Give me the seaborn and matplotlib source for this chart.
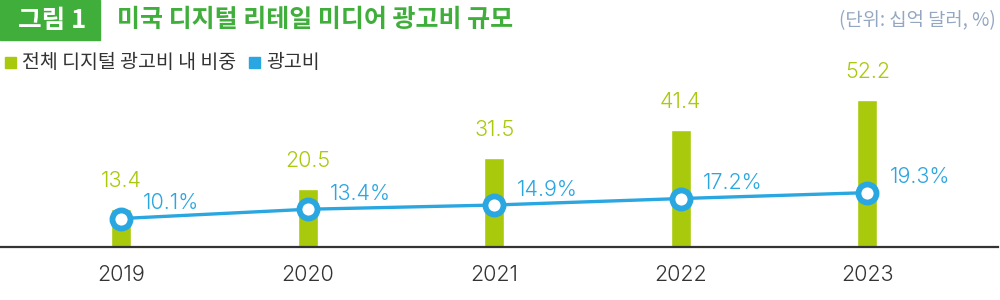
import matplotlib
matplotlib.use("Agg")
import matplotlib.pyplot as plt
import seaborn as sns
import numpy as np
import pandas as pd
from matplotlib.patches import Rectangle

years = ["2019", "2020", "2021", "2022", "2023"]
spend = [13.4, 20.5, 31.5, 41.4, 52.2]          # 십억 달러
share = [10.1, 13.4, 14.9, 17.2, 19.3]          # %
title_tag = "그림 1"
title = "미국 디지털 리테일 미디어 광고비 규모"
unit = "(단위: 십억 달러, %)"
legend_labels = ["전체 디지털 광고비 내 비중", "광고비"]

GREEN = "#a9c90c"
BLUE = "#2aa6e0"
TITLE_GREEN = "#3fae3a"
DARK = "#333333"
NUMFONT = ["Inter", "Noto Sans CJK KR", "DejaVu Sans"]

sns.set_theme(style="white")
plt.rcParams['font.family'] = ['Noto Sans CJK KR', 'DejaVu Sans']

fig = plt.figure(figsize=(10, 3), dpi=100)
ax = fig.add_axes([0, 0.1767, 0.998, 0.6233])

df = pd.DataFrame({"year": years, "spend": spend, "share": share})
sns.barplot(data=df, x="year", y="spend", color=GREEN, width=0.107,
            saturation=1, ax=ax, zorder=2)
xpos = np.arange(len(years))
sns.lineplot(x=xpos, y=share, ax=ax, color=BLUE, lw=2.4, zorder=3,
             marker="o", markersize=13, markerfacecolor="white",
             markeredgecolor=BLUE, markeredgewidth=4.2)

ax.set_xlim(-0.649, 4.70)
ax.set_ylim(0, 66.4)
ax.set_xlabel("")
ax.set_ylabel("")
ax.set_yticks([])
for s in ["top", "left", "right"]:
    ax.spines[s].set_visible(False)
ax.spines["bottom"].set_color(DARK)
ax.spines["bottom"].set_linewidth(1.6)
ax.tick_params(axis="x", length=0, pad=13, labelsize=15.5, labelcolor=DARK)
for lab in ax.get_xticklabels():
    lab.set_family(NUMFONT)
    lab.set_fontweight(300)

for i, (v, p) in enumerate(zip(spend, share)):
    ax.annotate(f"{v}", (i, v), xytext=(0, 13), textcoords="offset points",
                ha="center", va="bottom", fontsize=15.5, color=GREEN,
                family=NUMFONT, fontweight=300)
    ax.annotate(f"{p}%", (i, p), xytext=(16, 11), textcoords="offset points",
                ha="left", va="center", fontsize=15.5, color=BLUE,
                family=NUMFONT, fontweight=300)

# header
fig.patches.append(Rectangle((0, 1 - 40/300), 100/1000, 40/300,
                             transform=fig.transFigure, color=TITLE_GREEN,
                             zorder=0))
fig.text(52/1000, 1 - 20/300, title_tag, ha="center", va="center",
         fontsize=18.5, fontweight="bold", color="white")
fig.text(117/1000, 1 - 20/300, title, ha="left", va="center",
         fontsize=18, fontweight="bold", color=TITLE_GREEN)
fig.text(996/1000, 1 - 21/300, unit, ha="right", va="center",
         fontsize=13.5, color="#93a7c2", fontweight="light")

# legend
fig.patches.append(Rectangle((5/1000, 1 - 68/300), 11/1000, 11/300,
                             transform=fig.transFigure, color=GREEN))
fig.text(22/1000, 1 - 62/300, legend_labels[0], ha="left", va="center",
         fontsize=14, color=DARK)
fig.patches.append(Rectangle((249/1000, 1 - 68/300), 11/1000, 11/300,
                             transform=fig.transFigure, color=BLUE))
fig.text(266/1000, 1 - 62/300, legend_labels[1], ha="left", va="center",
         fontsize=14, color=DARK)

fig.savefig("out.png", dpi=100)
